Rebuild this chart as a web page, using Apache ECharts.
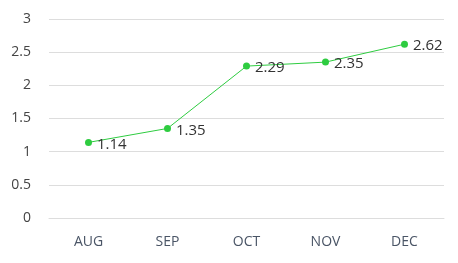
<!DOCTYPE html>
<html><head><meta charset="utf-8">
<script src="https://cdn.jsdelivr.net/npm/echarts@6/dist/echarts.min.js"></script>
<style>html,body{margin:0;padding:0;background:#fff}#c{width:458px;height:263px}</style>
</head><body><div id="c"></div>
<script>
const categories = ['AUG', 'SEP', 'OCT', 'NOV', 'DEC'];
const values = [1.14, 1.35, 2.29, 2.35, 2.62];
const yTicks = [0, 0.5, 1, 1.5, 2, 2.5, 3];

const chart = echarts.init(document.getElementById('c'));
chart.setOption({
  animation: false,
  grid: { left: 49, right: 14, top: 19, bottom: 45 },
  textStyle: { fontFamily: 'Open Sans' },
  xAxis: {
    type: 'category',
    data: categories,
    boundaryGap: true,
    axisLine: { show: true, lineStyle: { color: '#dddddd' } },
    axisTick: { show: false },
    axisLabel: { color: '#4a5566', fontSize: 14, margin: 17, fontFamily: 'Open Sans' }
  },
  yAxis: {
    type: 'value',
    min: yTicks[0],
    max: yTicks[yTicks.length - 1],
    interval: 0.5,
    axisLine: { show: false },
    axisTick: { show: false },
    splitLine: { lineStyle: { color: '#dddddd' } },
    axisLabel: { color: '#444444', fontSize: 14, margin: 18, fontFamily: 'Open Sans' }
  },
  series: [{
    type: 'line',
    data: values,
    symbol: 'circle',
    symbolSize: 7,
    itemStyle: { color: '#2ecc40' },
    lineStyle: { color: '#2ecc40', width: 1 },
    label: { show: true, position: 'right', offset: [0, 2], color: '#333333', fontSize: 15, distance: 5, fontFamily: 'Open Sans' }
  }]
});
</script></body></html>
